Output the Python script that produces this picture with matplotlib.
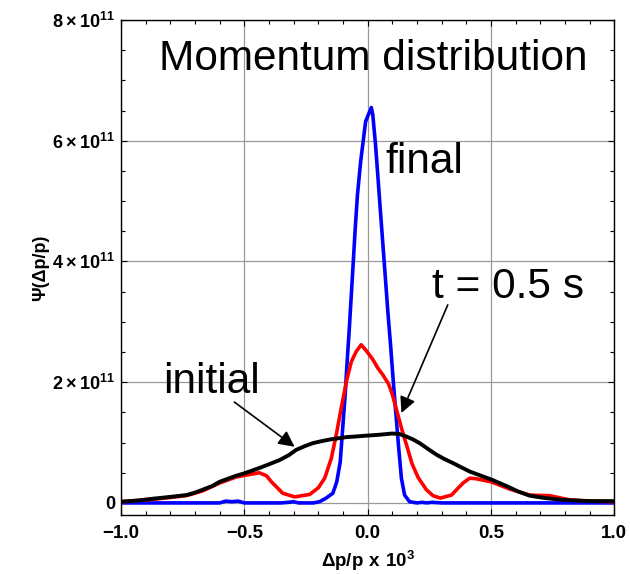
#! /usr/bin/env python3

# Momentum distribution: initial, intermediate (t = 0.5 s) and final spectra

import numpy as np
import matplotlib
matplotlib.use("Agg")
import matplotlib.pyplot as plt
from matplotlib.ticker import MultipleLocator

plt.rcParams["font.family"] = ["Liberation Sans", "DejaVu Sans"]
plt.rcParams["mathtext.fontset"] = "custom"
plt.rcParams["mathtext.rm"] = "Liberation Sans"
plt.rcParams["mathtext.bf"] = "Liberation Sans:bold"

# values in units of 1e11
final_x = [-1.0, -0.80, -0.60, -0.575, -0.55, -0.525, -0.50, -0.35, -0.32,
           -0.30, -0.28, -0.22, -0.195, -0.168, -0.141, -0.125, -0.111,
           -0.101, -0.091, -0.083, -0.074, -0.066, -0.058, -0.050, -0.041,
           -0.028, -0.008, 0.015, 0.021, 0.032, 0.042, 0.052, 0.062, 0.072,
           0.082, 0.093, 0.103, 0.114, 0.125, 0.137, 0.150, 0.170, 0.20,
           0.22, 0.24, 0.26, 0.30, 0.50, 0.80, 1.0]
final_y = [0.0, 0.0, 0.0, 0.03, 0.02, 0.03, 0.0, 0.0, 0.01,
           0.02, 0.0, 0.0, 0.02, 0.08, 0.16, 0.35, 0.68,
           1.24, 1.79, 2.34, 2.90, 3.45, 4.00, 4.56, 5.11,
           5.66, 6.32, 6.55, 6.43, 5.94, 5.39, 4.83, 4.28, 3.73,
           3.17, 2.62, 2.07, 1.51, 0.96, 0.41, 0.13, 0.02, 0.0,
           0.01, 0.0, 0.01, 0.0, 0.0, 0.0, 0.0]

mid_x = [-1.0, -0.87, -0.80, -0.735, -0.668, -0.60, -0.533, -0.479, -0.44,
         -0.41, -0.39, -0.344, -0.296, -0.235, -0.20, -0.174, -0.147, -0.127,
         -0.107, -0.086, -0.066, -0.046, -0.026, -0.005, 0.022, 0.042,
         0.062, 0.085, 0.10, 0.12, 0.14, 0.16, 0.18, 0.205, 0.238, 0.265,
         0.295, 0.34, 0.387, 0.414, 0.441, 0.50, 0.576, 0.657, 0.738, 0.82,
         0.90, 1.0]
mid_y = [0.02, 0.06, 0.09, 0.12, 0.20, 0.33, 0.43, 0.47, 0.50,
         0.45, 0.35, 0.16, 0.10, 0.14, 0.25, 0.41, 0.74, 1.13,
         1.57, 2.01, 2.34, 2.51, 2.62, 2.52, 2.37, 2.23,
         2.12, 1.97, 1.80, 1.50, 1.20, 0.93, 0.65, 0.42, 0.22, 0.12,
         0.08, 0.13, 0.33, 0.41, 0.40, 0.35, 0.23, 0.13, 0.12, 0.05,
         0.03, 0.02]

init_x = [-1.0, -0.93, -0.87, -0.80, -0.735, -0.70, -0.668, -0.63, -0.60,
          -0.533, -0.50, -0.438, -0.40, -0.357, -0.32, -0.289, -0.255,
          -0.222, -0.19, -0.154, -0.12, -0.086, -0.05, -0.019, 0.015, 0.049,
          0.075, 0.10, 0.13, 0.157, 0.185, 0.211, 0.25, 0.279, 0.31, 0.346,
          0.38, 0.414, 0.46, 0.50, 0.563, 0.61, 0.657, 0.72, 0.792, 0.90,
          1.0]
init_y = [0.02, 0.04, 0.07, 0.10, 0.13, 0.17, 0.22, 0.28, 0.35,
          0.45, 0.49, 0.58, 0.64, 0.71, 0.79, 0.88, 0.94,
          0.99, 1.02, 1.05, 1.07, 1.09, 1.10, 1.11, 1.12, 1.13,
          1.14, 1.15, 1.14, 1.10, 1.05, 0.99, 0.88, 0.80, 0.73, 0.66,
          0.59, 0.52, 0.45, 0.39, 0.28, 0.19, 0.12, 0.08, 0.05, 0.03,
          0.03]

ytick_vals = [0, 2e11, 4e11, 6e11, 8e11]
ytick_labels = ["0", r"$\mathbf{2\times10^{11}}$", r"$\mathbf{4\times10^{11}}$",
                r"$\mathbf{6\times10^{11}}$", r"$\mathbf{8\times10^{11}}$"]
xtick_vals = [-1.0, -0.5, 0.0, 0.5, 1.0]
xtick_labels = ["\u22121.0", "\u22120.5", "0.0", "0.5", "1.0"]


def main():
    scale = 1e11
    fig = plt.figure(figsize=(6.3, 5.74), dpi=100)
    ax = fig.add_axes([0.192, 0.1028, 0.783, 0.8624])

    ax.plot(final_x, np.array(final_y) * scale, color="#0000ff", lw=2.6,
            solid_joinstyle="round")
    ax.plot(mid_x, np.array(mid_y) * scale, color="#ff0000", lw=2.6,
            solid_joinstyle="round")
    ax.plot(init_x, np.array(init_y) * scale, color="black", lw=2.8,
            solid_joinstyle="round")

    ax.set_xlim(-1, 1)
    ax.set_ylim(-0.2e11, 8e11)
    ax.set_xticks(xtick_vals)
    ax.set_xticklabels(xtick_labels, fontweight="bold", fontsize=13.5)
    ax.set_yticks(ytick_vals)
    ax.set_yticklabels(ytick_labels, fontsize=13)
    for lab in ax.get_yticklabels()[:1]:
        lab.set_fontweight("bold")
    ax.xaxis.set_minor_locator(MultipleLocator(0.1))
    ax.yaxis.set_minor_locator(MultipleLocator(0.5e11))
    ax.tick_params(which="both", direction="in", top=True, right=True,
                   width=0.8)
    ax.tick_params(which="major", length=4)
    ax.tick_params(which="minor", length=3)
    ax.tick_params(axis="x", pad=7)
    ax.tick_params(axis="y", pad=4)

    ax.grid(True, which="major", color="#9a9a9a", lw=0.9)
    ax.set_axisbelow(True)
    for sp in ax.spines.values():
        sp.set_linewidth(1.0)

    ax.set_xlabel(r"$\mathbf{\Delta p/p\ x\ 10^{3}}$", fontsize=13.5,
                  labelpad=5)
    ax.set_ylabel("\u03a8(\u0394p/p)", fontsize=13, fontweight="bold",
                  labelpad=2)

    ax.text(-0.844, 7.17e11, "Momentum distribution", fontsize=30.5,
            va="baseline")
    ax.text(0.073, 5.47e11, "final", fontsize=30.5, va="baseline")
    ax.text(0.26, 3.40e11, "t = 0.5 s", fontsize=30.5, va="baseline")
    ax.text(-0.83, 1.82e11, "initial", fontsize=30.5, va="baseline")

    arrow = dict(arrowstyle="-|>", color="black", lw=1.2, mutation_scale=24,
                 shrinkA=0, shrinkB=0)
    ax.annotate("", xy=(-0.296, 0.93e11), xytext=(-0.54, 1.67e11),
                arrowprops=arrow)
    ax.annotate("", xy=(0.137, 1.49e11), xytext=(0.325, 3.28e11),
                arrowprops=arrow)

    fig.savefig("out.png", dpi=100)


if __name__ == "__main__":
    main()
